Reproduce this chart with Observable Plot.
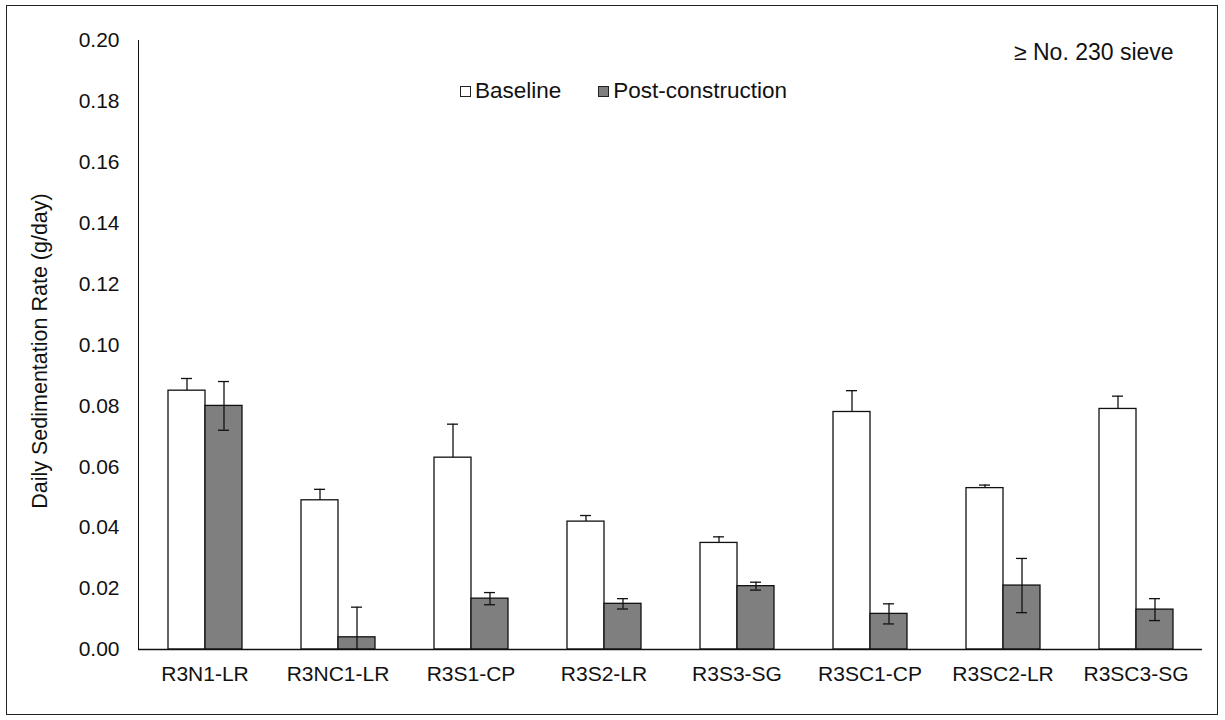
<!DOCTYPE html>
<html>
<head>
<meta charset="utf-8">
<script src="https://cdn.jsdelivr.net/npm/d3@7"></script>
<script src="https://cdn.jsdelivr.net/npm/@observablehq/plot@0.6"></script>
<style>
  html, body { margin: 0; padding: 0; background: #fff; }
  #wrap { position: relative; width: 1225px; height: 720px; overflow: hidden; font-family: "Liberation Sans", Arial, sans-serif; color: #111; }
  #frame { position: absolute; left: 6px; top: 5px; width: 1212px; height: 710px; border: 1.5px solid #222; box-sizing: border-box; pointer-events: none; }
  #legend { position: absolute; left: 460px; top: 78px; display: flex; align-items: center; font-size: 22.5px; white-space: nowrap; }
  #legend .sw { display: inline-block; width: 11px; height: 11px; border: 1px solid #222; margin-right: 4px; box-sizing: border-box; }
  #legend .item { display: flex; align-items: center; margin-right: 37px; }
  #note { position: absolute; left: 1014px; top: 39px; font-size: 23px; white-space: nowrap; }
  #ylabel { position: absolute; left: 40px; top: 351px; transform: translate(-50%, -50%) rotate(-90deg); font-size: 21.5px; white-space: nowrap; }
  #chart { position: absolute; left: 0; top: 0; }
</style>
</head>
<body>
<div id="wrap">
  <div id="chart"></div>
  <div id="ylabel"></div>
  <div id="legend"></div>
  <div id="note"></div>
  <div id="frame"></div>
</div>
<script>
// ---- data ----
const categories = ["R3N1-LR", "R3NC1-LR", "R3S1-CP", "R3S2-LR", "R3S3-SG", "R3SC1-CP", "R3SC2-LR", "R3SC3-SG"];
const seriesNames = ["Baseline", "Post-construction"];
const baselineValues = [0.085, 0.049, 0.063, 0.042, 0.035, 0.078, 0.053, 0.079];
const baselineErrors = [0.004, 0.0036, 0.011, 0.002, 0.002, 0.007, 0.001, 0.0042];
const postValues = [0.080, 0.004, 0.0167, 0.015, 0.0208, 0.0117, 0.021, 0.0131];
const postErrors = [0.008, 0.0099, 0.002, 0.0017, 0.0013, 0.0033, 0.0089, 0.0036];
const yTicks = [0, 0.02, 0.04, 0.06, 0.08, 0.10, 0.12, 0.14, 0.16, 0.18, 0.20];
const yLabel = "Daily Sedimentation Rate (g/day)";
const noteText = "\u2265 No. 230 sieve";
const seriesColors = ["#ffffff", "#7f7f7f"];

// ---- table built from arrays ----
const rows = [];
categories.forEach((c, i) => {
  rows.push({site: c, series: seriesNames[0], value: baselineValues[i], err: baselineErrors[i],
             lo: baselineValues[i], hi: baselineValues[i] + baselineErrors[i], lowCap: false});
  const lo = postValues[i] - postErrors[i];
  rows.push({site: c, series: seriesNames[1], value: postValues[i], err: postErrors[i],
             lo: Math.max(0, lo), hi: postValues[i] + postErrors[i], lowCap: lo > 0});
});

const chart = Plot.plot({
  width: 1225,
  height: 720,
  marginLeft: 137,
  marginRight: 22,
  marginTop: 40,
  marginBottom: 71,
  style: {fontFamily: "'Liberation Sans', Arial, sans-serif", fontSize: "21px", color: "#111", background: "transparent", overflow: "visible"},
  fx: {domain: categories, padding: 0, label: null, axis: "bottom", tickSize: 0, tickPadding: 17},
  x: {domain: seriesNames, axis: null, paddingInner: 0, paddingOuter: 0.775},
  y: {domain: [0, 0.2], ticks: yTicks, tickFormat: ".2f", tickSize: 0, tickPadding: 19, line: true, label: null},
  color: {domain: seriesNames, range: seriesColors},
  marks: [
    Plot.barY(rows, {fx: "site", x: "series", y: "value", fill: "series", stroke: "#111", strokeWidth: 1.3}),
    Plot.ruleX(rows, {fx: "site", x: "series", y1: "lo", y2: "hi", stroke: "#111", strokeWidth: 1.3}),
    Plot.tickY(rows, {fx: "site", x: "series", y: "hi", stroke: "#111", strokeWidth: 1.3, insetLeft: 13, insetRight: 13}),
    Plot.tickY(rows.filter(d => d.lowCap), {fx: "site", x: "series", y: "lo", stroke: "#111", strokeWidth: 1.3, insetLeft: 13, insetRight: 13}),
    Plot.ruleY([0], {stroke: "#111", strokeWidth: 1.3})
  ]
});
document.getElementById("chart").appendChild(chart);

// y-axis title
document.getElementById("ylabel").textContent = yLabel;

// legend
const legend = document.getElementById("legend");
seriesNames.forEach((s, i) => {
  const item = document.createElement("span");
  item.className = "item";
  const sw = document.createElement("span");
  sw.className = "sw";
  sw.style.background = seriesColors[i];
  item.appendChild(sw);
  item.appendChild(document.createTextNode(s));
  legend.appendChild(item);
});
document.getElementById("note").textContent = noteText;
</script>
</body>
</html>
